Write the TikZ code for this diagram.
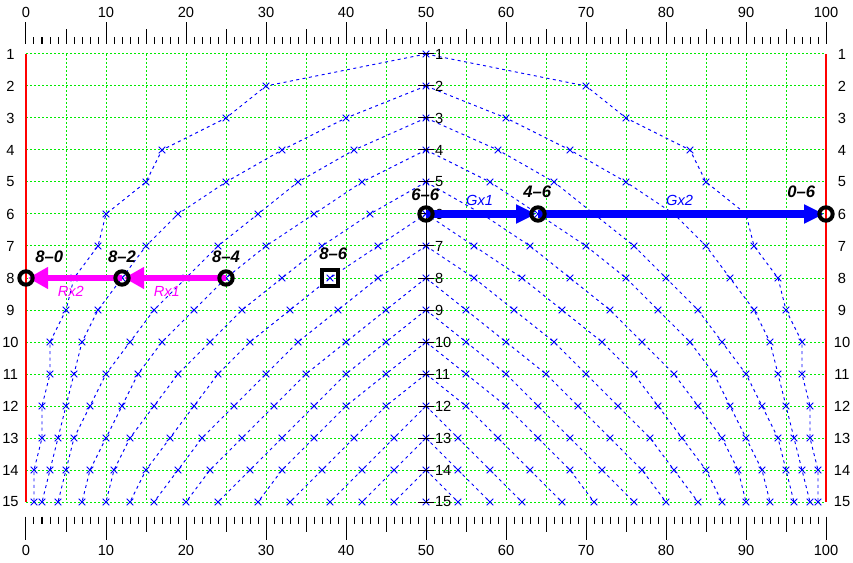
\documentclass[tikz,border=0pt]{standalone}
\usepackage{fontspec}
\setmainfont{Liberation Sans}
\usetikzlibrary{arrows.meta}
\definecolor{gridgreen}{RGB}{0,235,0}
\definecolor{plotblue}{RGB}{0,0,255}
\definecolor{plotmag}{RGB}{255,0,255}
\definecolor{plotred}{RGB}{255,0,0}
\tikzset{
  gridline/.style={gridgreen, line width=0.75pt, dash pattern=on 1.5pt off 1.5pt},
  curveline/.style={plotblue, line width=0.7pt, dash pattern=on 2.25pt off 2.6pt},
  crossmark/.style={plotblue, line width=0.65pt, solid},
  tickline/.style={black, line width=0.75pt},
  numlabel/.style={font=\fontsize{11}{13}\selectfont, inner sep=0pt},
  scorelabel/.style={font=\fontsize{12.5}{14}\selectfont\bfseries\itshape, inner sep=0pt},
  arrowlabel/.style={font=\fontsize{11}{13}\selectfont\itshape, inner sep=0pt},
  ring/.style={draw=black, line width=3pt, circle, minimum size=10pt, inner sep=0pt},
  squarebox/.style={draw=black, line width=3.2pt, rectangle, minimum size=12pt, inner sep=0pt},
  magarrow/.style={plotmag, line width=5pt, -{Triangle[length=15pt,width=15.5pt]}, shorten >=1.5pt},
  bluearrow/.style={plotblue, line width=5.5pt, -{Triangle[length=15pt,width=13.5pt]}, shorten >=1.5pt},
}
\newcommand\plotcross[1]{\draw[crossmark] #1 ++(-2.5pt,-2.5pt) -- ++(5pt,5pt) ++(-5pt,0pt) -- ++(5pt,-5pt);}
\newcommand\halfcurve[2]{%
  \draw[curveline] (50,#1) \foreach \v [count=\i] in {#2} { -- (\v,{#1+\i}) };
  \foreach \v [count=\i] in {#2} { \plotcross{(\v,{#1+\i})} }
}
\newcommand\allcurves{%
  \halfcurve{1}{30,25,17,15,10,9,6,5,3,3,2,2,1,1}
  \halfcurve{2}{40,32,25,19,15,12,9,7,6,5,4,3,2}
  \halfcurve{3}{41,34,29,24,20,16,13,10,8,6,5,4}
  \halfcurve{4}{42,36,30,25,21,17,14,12,10,8,7}
  \halfcurve{5}{43,37,32,27,23,19,16,13,11,10}
  \halfcurve{6}{44,38,33,28,24,21,18,15,13}
  \halfcurve{7}{44,39,34,30,26,22,19,16}
  \halfcurve{8}{45,40,35,31,27,23,20}
  \halfcurve{9}{45,40,36,32,28,24}
  \halfcurve{10}{45,40,36,32,29}
  \halfcurve{11}{45,41,37,33}
  \halfcurve{12}{46,42,38}
  \halfcurve{13}{46,42}
  \halfcurve{14}{46}
}
\begin{document}
\begin{tikzpicture}[x=6pt,y=-24pt]
\useasboundingbox[fill=white] (-3.25,-0.6875) rectangle (103.375,16.90625);
% green grid
\foreach \r in {1,...,15} { \draw[gridline] (0,\r) -- (100,\r); }
\foreach \u in {5,10,...,95} { \draw[gridline] (\u,1) -- (\u,15); }
% red borders
\draw[plotred, line width=1.8pt] (0,1) -- (0,15);
\draw[plotred, line width=1.8pt] (100,1) -- (100,15);
% axes ticks top and bottom
\foreach \i in {0,...,100} {
  \pgfmathtruncatemacro\mten{mod(\i,10)}
  \pgfmathtruncatemacro\mfive{mod(\i,5)}
  \ifnum\mten=0 \def\ticktop{0}\def\tickbot{16.19}\else
    \ifnum\mfive=0 \def\ticktop{0.228}\def\tickbot{15.93}\else
      \def\ticktop{0.459}\def\tickbot{15.70}\fi\fi
  \draw[tickline] (\i,0.6875) -- (\i,\ticktop);
  \draw[tickline] (\i,15.46) -- (\i,\tickbot);
}
\foreach \i in {0,10,...,100} {
  \node[numlabel] (top\i) at (\i,-0.3125) {\i};
  \node[numlabel] (bot\i) at (\i,16.5) {\i};
}
\foreach \r in {1,...,15} {
  \node[numlabel] (lft\r) at (-1.94,\r) {\r};
  \node[numlabel] (rgt\r) at (102,\r) {\r};
}
% curves and crosses
\allcurves
\begin{scope}[shift={(100,0)},xscale=-1]
  \allcurves
\end{scope}
\foreach \r in {1,...,15} { \plotcross{(50,\r)} }
% center axis
\draw[tickline] (50,1) -- (50,15);
\foreach \r in {1,...,15} {
  \draw[tickline] (49,\r) -- (51,\r);
  \node[numlabel, anchor=west] (mid\r) at (51.1,\r) {\r};
}
% score points
\coordinate (p80) at (0,8);
\coordinate (p82) at (12,8);
\coordinate (p84) at (25,8);
\coordinate (p86) at (38,8);
\coordinate (p66) at (50,6);
\coordinate (p46) at (64,6);
\coordinate (p06) at (100,6);
% arrows
\draw[magarrow] (p84) -- (p82);
\draw[magarrow] (p82) -- (p80);
\draw[bluearrow] (p66) -- (p46);
\draw[bluearrow] (p46) -- (p06);
% markers
\node[ring] (c80) at (p80) {};
\node[ring] (c82) at (p82) {};
\node[ring] (c84) at (p84) {};
\node[squarebox] (c86) at (p86) {};
\node[ring] (c66) at (p66) {};
\node[ring] (c46) at (p46) {};
\node[ring] (c06) at (p06) {};
% labels
\node[scorelabel] (t80) at (2.9,7.34) {8--0};
\node[scorelabel] (t82) at (12,7.34) {8--2};
\node[scorelabel] (t84) at (25,7.34) {8--4};
\node[scorelabel] (t86) at (38.4,7.25) {8--6};
\node[scorelabel] (t66) at (49.9,5.4) {6--6};
\node[scorelabel] (t46) at (63.9,5.3) {4--6};
\node[scorelabel] (t06) at (96.9,5.3) {0--6};
\node[arrowlabel, text=plotmag] (lrx1) at (17.6,8.42) {Rx1};
\node[arrowlabel, text=plotmag] (lrx2) at (5.6,8.42) {Rx2};
\node[arrowlabel, text=plotblue] (lgx1) at (56.7,5.58) {Gx1};
\node[arrowlabel, text=plotblue] (lgx2) at (81.7,5.58) {Gx2};
\end{tikzpicture}
\end{document}
